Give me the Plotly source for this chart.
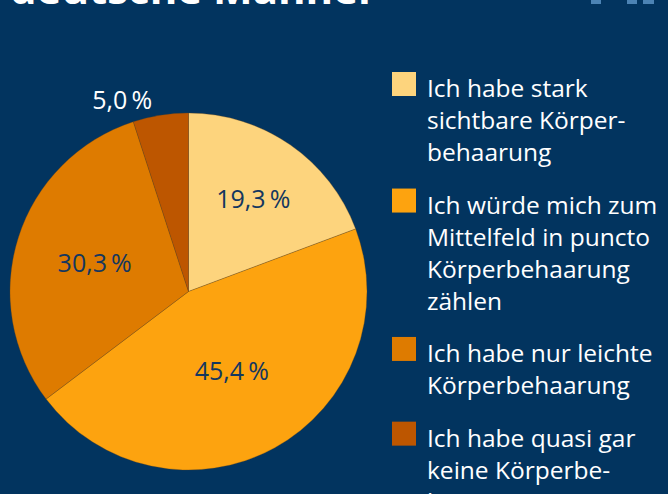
import plotly.graph_objects as go

# ---- data ----
legend_lines = [
    ["Ich habe stark", "sichtbare Körper-", "behaarung"],
    ["Ich würde mich zum", "Mittelfeld in puncto", "Körperbehaarung", "zählen"],
    ["Ich habe nur leichte", "Körperbehaarung"],
    ["Ich habe quasi gar", "keine Körperbe-", "haarung"],
]
labels = [" ".join(l).replace("- ", "") for l in legend_lines]
values = [19.3, 45.4, 30.3, 5.0]
colors = ["#FDD47D", "#FDA30F", "#DE7B00", "#BD5600"]
title_text = "deutsche Männer"

W, H = 668, 494
BG = "#02345f"
FONT = "Open Sans"

def py(px):  # pixel from top -> paper y
    return 1 - px / H

def px_(x):
    return x / W

fig = go.Figure()
fig.add_trace(go.Pie(
    labels=labels,
    values=values,
    sort=False,
    direction="clockwise",
    rotation=0,
    marker=dict(colors=colors, line=dict(color="rgba(110,70,20,0.5)", width=0.6)),
    texttemplate="%{value:.1f}\u2009%",
    textposition=["inside", "inside", "inside", "outside"],
    insidetextorientation="horizontal",
    insidetextfont=dict(color="#14375f", size=25, family=FONT),
    outsidetextfont=dict(color="white", size=25, family=FONT),
    showlegend=False,
    hoverinfo="label+percent",
    domain=dict(x=[px_(10), px_(367)], y=[1 - 470 / H, 1 - 113 / H]),
))

annotations = []
shapes = []

# cropped title at the very top
annotations.append(dict(
    text=f"<b>{title_text}</b>", x=px_(8), y=py(18), xref="paper", yref="paper",
    xanchor="left", yanchor="bottom", showarrow=False,
    font=dict(family=FONT, size=42, color="white"),
))

# decorative cropped marks top right
for x0, x1 in [(591, 601), (627, 637), (643, 654)]:
    shapes.append(dict(type="rect", xref="paper", yref="paper",
                       x0=px_(x0), x1=px_(x1), y0=py(4), y1=py(-2),
                       fillcolor="#4c83b4", line=dict(width=0)))

# custom legend
baseline = 96
step = 31.85
gap = 21
for lines, col in zip(legend_lines, colors):
    shapes.append(dict(type="rect", xref="paper", yref="paper",
                       x0=px_(392), x1=px_(416), y0=py(baseline), y1=py(baseline - 24),
                       fillcolor=col, line=dict(width=0)))
    annotations.append(dict(
        text="<br>".join(lines), x=px_(425), y=py(baseline - 27), xref="paper", yref="paper",
        xanchor="left", yanchor="top", align="left", showarrow=False,
        font=dict(family=FONT, size=24.5, color="white"),
    ))
    baseline += step * len(lines) + gap

fig.update_layout(
    width=W, height=H,
    margin=dict(l=0, r=0, t=0, b=0),
    paper_bgcolor=BG, plot_bgcolor=BG,
    separators=",.",
    annotations=annotations,
    shapes=shapes,
    font=dict(family=FONT),
)

fig.write_html(
    "out.html",
    config={"displayModeBar": False},
    post_script="document.body.style.margin='0';document.body.style.background='%s';" % BG,
)
